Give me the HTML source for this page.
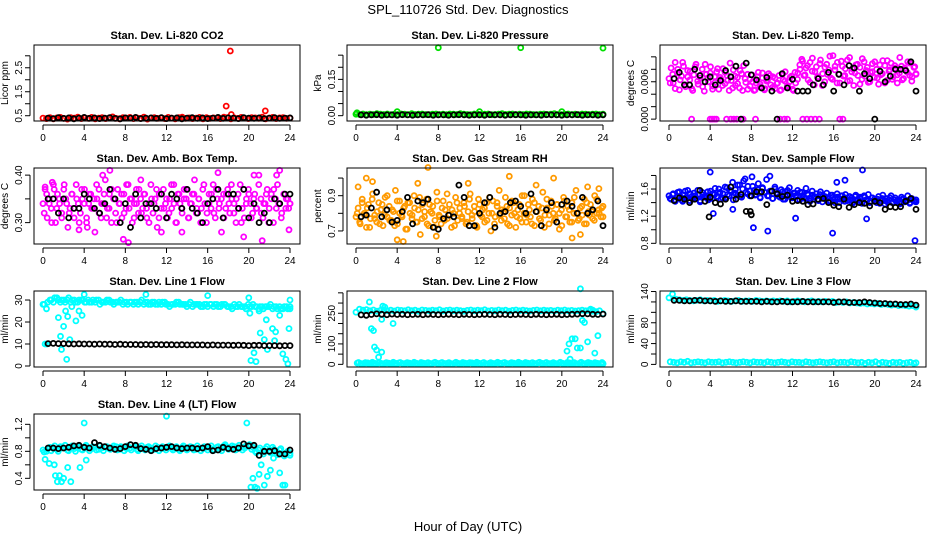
<!DOCTYPE html>
<html><head><meta charset="utf-8"><style>
html,body{margin:0;padding:0;background:#fff;}
svg{display:block;font-family:"Liberation Sans",sans-serif;}
</style></head><body>
<svg id="chart" width="936" height="540" viewBox="0 0 936 540">
<rect width="936" height="540" fill="#fff"/>
<text x="468" y="14" font-size="13" text-anchor="middle">SPL_110726  Std. Dev. Diagnostics</text>
<text x="468" y="531" font-size="13" text-anchor="middle">Hour of Day (UTC)</text>
</svg>
<script>
const xTicks=[0,4,8,12,16,20,24];
const co2Red=[0.40,0.38,0.42,0.37,0.41,0.43,0.39,0.36,0.42,0.40,0.44,0.38,0.41,0.39,0.43,0.37,0.40,0.42,0.38,0.41,0.45,0.39,0.37,0.42,0.40,0.43,0.38,0.41,0.39,0.44,0.36,0.40,0.42,0.39,0.41,0.38,0.43,0.40,0.37,0.42,0.44,0.39,0.41,0.38,0.40,0.43,0.37,0.42,0.39,0.41,0.40,0.38,0.44,0.42,0.37,0.41,0.39,0.43,0.40,0.38,0.42,0.41,0.39,0.44,0.37,0.40,0.43,0.38,0.41,0.42,0.39,0.40];
const co2Black=[0.40,0.38,0.42,0.39,0.41,0.37,0.40,0.43,0.39,0.41,0.38,0.40,0.42,0.39,0.37,0.41,0.40,0.43,0.38,0.40,0.41,0.39,0.42,0.38,0.40,0.41,0.37,0.40,0.42,0.39,0.41,0.38,0.40,0.43,0.39,0.41,0.40,0.38,0.42,0.40,0.39,0.41,0.38,0.40,0.42,0.39,0.40,0.41];
const co2OutT=[17.8,18.2,18.3,21.6];
const co2OutV=[0.9,3.2,0.55,0.7];
const presGreen=[0.006,0.005,0.007,0.004,0.006,0.005,0.008,0.006,0.005,0.007,0.004,0.006,0.005,0.007,0.006,0.004,0.008,0.005,0.006,0.007,0.005,0.004,0.006,0.007,0.005,0.006,0.004,0.007,0.006,0.005,0.008,0.006,0.005,0.004,0.007,0.006,0.005,0.006,0.007,0.004,0.005,0.006,0.008,0.005,0.006,0.007,0.004,0.006,0.005,0.007,0.006,0.005,0.004,0.006,0.007,0.005,0.006,0.008,0.005,0.004,0.006,0.007,0.005,0.006,0.004,0.007,0.006,0.005,0.006,0.007,0.005,0.006];
const presBlack=[0.003,0.002,0.003,0.004,0.002,0.003,0.003,0.002,0.004,0.003,0.002,0.003,0.003,0.004,0.002,0.003,0.003,0.002,0.003,0.004,0.003,0.002,0.003,0.003,0.002,0.004,0.003,0.003,0.002,0.003,0.004,0.003,0.002,0.003,0.003,0.002,0.004,0.003,0.003,0.002,0.003,0.003,0.004,0.002,0.003,0.003,0.002,0.003];
const presOutT=[0.1,4,8,12,16,20,24];
const presOutV=[0.012,0.017,0.281,0.017,0.281,0.017,0.279];
const tempMag=[0.0065,0.0082,0.0058,0.0091,0.0074,0.0047,0.0069,0.0085,0.0052,0.0078,0.0063,0.0049,0.0071,0.0088,0.0056,0.0066,0.0080,0.0045,0.0072,0.0060,0.0084,0.0053,0.0068,0.0076,0.0048,0.0064,0.0081,0.0057,0.0070,0.0046,0.0062,0.0079,0.0054,0.0067,0.0050,0.0073,0.0086,0.0059,0.0048,0.0064,0.0071,0.0046,0.0058,0.0075,0.0052,0.0066,0.0047,0.0061,0.0073,0.0055,0.0068,0.0049,0.0057,0.0070,0.0047,0.0063,0.0076,0.0052,0.0060,0.0069,0.0046,0.0058,0.0074,0.0087,0.0096,0.0070,0.0082,0.0063,0.0091,0.0077,0.0055,0.0084,0.0068,0.0095,0.0073,0.0060,0.0088,0.0079,0.0066,0.0102,0.0085,0.0058,0.0072,0.0093,0.0069,0.0081,0.0061,0.0099,0.0076,0.0054,0.0087,0.0070,0.0083,0.0064,0.0092,0.0078,0.0059,0.0075,0.0089,0.0067,0.0080,0.0056,0.0071,0.0094,0.0086,0.0062,0.0077,0.0090,0.0068,0.0082,0.0058,0.0074,0.0085,0.0065,0.0079,0.0092,0.0070,0.0061,0.0083,0.0073];
const tempMag2=[0.0058,0.0072,0.0049,0.0080,0.0063,0.0091,0.0055,0.0068,0.0077,0.0046,0.0084,0.0061,0.0070,0.0052,0.0088,0.0066,0.0074,0.0048,0.0059,0.0081,0.0067,0.0054,0.0075,0.0062,0.0090,0.0050,0.0069,0.0057,0.0078,0.0046,0.0065,0.0072,0.0053,0.0060,0.0047,0.0068,0.0056,0.0074,0.0049,0.0063,0.0070,0.0051,0.0066,0.0058,0.0046,0.0072,0.0061,0.0054,0.0067,0.0048,0.0075,0.0064,0.0080,0.0093,0.0071,0.0086,0.0059,0.0098,0.0076,0.0067,0.0089,0.0054,0.0083,0.0072,0.0101,0.0064,0.0079,0.0091,0.0058,0.0085,0.0070,0.0095,0.0062,0.0081,0.0074,0.0088,0.0056,0.0097,0.0069,0.0083,0.0060,0.0076,0.0092,0.0066,0.0087,0.0073,0.0058,0.0094,0.0079,0.0064,0.0086,0.0071,0.0099,0.0063,0.0082,0.0075,0.0090,0.0068,0.0084,0.0072];
const tempOutT=[2.2,4.0,4.2,4.4,4.6,5.6,6.0,6.3,6.6,7.2,8.4,10.8,11.2,11.5,13.0,13.4,13.8,14.2,14.6,16.6,16.9];
const tempOutV=[0,0,0,0,0,0,0,0,0,0,0,0,0,0,0,0,0,0,0,0,0];
const tempBlack=[0.0065,0.0075,0.0055,0.0055,0.0080,0.0070,0.0060,0.0068,0.0055,0.0062,0.0078,0.0068,0.0085,0.0000,0.0090,0.0071,0.0063,0.0050,0.0067,0.0045,0.0000,0.0073,0.0050,0.0064,0.0045,0.0045,0.0045,0.0055,0.0065,0.0055,0.0075,0.0045,0.0072,0.0055,0.0086,0.0082,0.0045,0.0073,0.0065,0.0000,0.0077,0.0060,0.0069,0.0080,0.0080,0.0078,0.0092,0.0045];
const ambMag=[0.34,0.37,0.31,0.35,0.33,0.38,0.30,0.36,0.34,0.32,0.37,0.35,0.29,0.33,0.36,0.31,0.38,0.34,0.32,0.35,0.37,0.30,0.34,0.36,0.33,0.28,0.35,0.37,0.31,0.34,0.39,0.33,0.36,0.30,0.35,0.32,0.37,0.34,0.31,0.36,0.33,0.38,0.35,0.30,0.34,0.37,0.32,0.35,0.33,0.36,0.31,0.34,0.38,0.32,0.35,0.29,0.36,0.33,0.37,0.34,0.31,0.35,0.33,0.38,0.30,0.36,0.34,0.32,0.37,0.35,0.31,0.34,0.36,0.39,0.33,0.35,0.30,0.37,0.34,0.32,0.36,0.33,0.38,0.31,0.35,0.34,0.28,0.36,0.33,0.37,0.32,0.35,0.34,0.30,0.36,0.38,0.33,0.31,0.35,0.37,0.34,0.32,0.36,0.33,0.40,0.35,0.31,0.34,0.37,0.33,0.36,0.30,0.35,0.38,0.34,0.32,0.36,0.33,0.35,0.34];
const ambMag2=[0.32,0.36,0.34,0.30,0.37,0.33,0.35,0.31,0.38,0.34,0.32,0.36,0.33,0.35,0.30,0.37,0.34,0.31,0.36,0.33,0.35,0.38,0.32,0.34,0.36,0.31,0.33,0.37,0.35,0.30,0.34,0.36,0.32,0.38,0.33,0.35,0.31,0.34,0.37,0.32,0.36,0.33,0.30,0.35,0.34,0.37,0.31,0.36,0.33,0.35,0.32,0.38,0.34,0.30,0.36,0.33,0.35,0.37,0.31,0.34,0.36,0.32,0.35,0.33,0.38,0.30,0.34,0.36,0.32,0.37,0.33,0.35,0.31,0.36,0.34,0.38,0.32,0.35,0.33,0.30,0.37,0.34,0.36,0.31,0.35,0.33,0.38,0.32,0.34,0.36,0.30,0.35,0.37,0.33,0.34,0.31,0.36,0.35,0.33,0.34];
const ambOutT=[0.2,0.9,3.5,4.3,5.8,6.5,7.8,8.3,9.5,11.5,13.5,17,19.5,20.5,21.3,22.7,23,23.9];
const ambOutV=[0.375,0.385,0.285,0.29,0.40,0.41,0.265,0.258,0.39,0.28,0.28,0.405,0.27,0.40,0.262,0.40,0.41,0.285];
const ambBlack=[0.35,0.35,0.32,0.35,0.31,0.33,0.33,0.36,0.35,0.33,0.32,0.34,0.37,0.35,0.30,0.34,0.29,0.36,0.31,0.34,0.34,0.33,0.36,0.31,0.36,0.35,0.33,0.37,0.33,0.32,0.30,0.34,0.35,0.37,0.31,0.36,0.36,0.33,0.37,0.31,0.34,0.30,0.32,0.30,0.35,0.34,0.36,0.36];
const rhOrange=[0.78,0.83,0.74,0.88,0.80,0.72,0.85,0.77,0.91,0.79,0.75,0.86,0.82,0.73,0.89,0.78,0.84,0.76,0.81,0.93,0.74,0.87,0.79,0.83,0.71,0.86,0.80,0.77,0.90,0.75,0.82,0.68,0.85,0.78,0.88,0.73,0.81,0.84,0.76,0.92,0.79,0.74,0.87,0.82,0.77,0.85,0.72,0.80,0.89,0.76,0.83,0.78,0.86,0.74,0.81,0.91,0.77,0.84,0.73,0.88,0.79,0.82,0.75,0.86,0.80,0.70,0.87,0.78,0.84,0.93,0.76,0.81,0.89,0.74,0.83,0.79,0.86,0.72,0.82,0.77,0.90,0.80,0.75,0.85,0.78,0.88,0.73,0.81,0.84,0.76,0.92,0.79,0.83,0.74,0.87,0.80,0.77,0.85,0.71,0.82,0.89,0.78,0.84,0.75,0.86,0.80,0.93,0.76,0.83,0.79,0.88,0.74,0.81,0.85,0.77,0.90,0.80,0.82,0.78,0.84];
const rhOrange2=[0.80,0.75,0.86,0.79,0.83,0.72,0.88,0.77,0.81,0.74,0.85,0.79,0.90,0.76,0.82,0.73,0.87,0.80,0.78,0.84,0.71,0.86,0.79,0.83,0.75,0.89,0.77,0.81,0.74,0.85,0.80,0.72,0.87,0.78,0.83,0.76,0.91,0.79,0.82,0.73,0.86,0.80,0.77,0.84,0.75,0.88,0.79,0.81,0.72,0.85,0.78,0.83,0.76,0.89,0.80,0.74,0.86,0.79,0.82,0.77,0.84,0.73,0.87,0.80,0.78,0.85,0.75,0.90,0.79,0.82,0.74,0.86,0.81,0.77,0.83,0.72,0.88,0.79,0.84,0.76,0.85,0.80,0.73,0.87,0.78,0.82,0.75,0.89,0.80,0.77,0.84,0.74,0.86,0.79,0.81,0.76,0.88,0.80,0.83,0.78];
const rhOutT=[0.2,1.0,1.6,4.0,4.6,6.0,7.0,7.8,10.9,14.9,17.5,19.2,21.0,21.8,22.5,23.6];
const rhOutV=[0.95,1.0,0.98,0.65,0.64,0.97,1.06,0.67,0.97,1.01,0.96,1.00,0.66,0.68,0.95,0.94];
const rhBlack=[0.78,0.79,0.83,0.92,0.78,0.82,0.75,0.76,0.81,0.89,0.74,0.87,0.86,0.88,0.72,0.71,0.77,0.79,0.78,0.96,0.89,0.73,0.73,0.80,0.86,0.89,0.72,0.80,0.81,0.86,0.87,0.84,0.80,0.91,0.81,0.73,0.82,0.86,0.75,0.85,0.87,0.84,0.80,0.89,0.80,0.82,0.87,0.73];
const sampBlue=[1.50,1.45,1.53,1.42,1.48,1.56,1.44,1.51,1.47,1.58,1.43,1.49,1.54,1.46,1.52,1.41,1.55,1.48,1.50,1.44,1.57,1.46,1.52,1.49,1.60,1.45,1.53,1.47,1.62,1.50,1.56,1.44,1.59,1.51,1.66,1.48,1.72,1.55,1.64,1.50,1.78,1.58,1.52,1.68,1.47,1.61,1.55,1.74,1.50,1.57,1.46,1.63,1.53,1.49,1.59,1.45,1.56,1.52,1.62,1.47,1.54,1.50,1.58,1.44,1.55,1.48,1.61,1.51,1.46,1.57,1.49,1.53,1.43,1.56,1.50,1.47,1.54,1.42,1.51,1.48,1.45,1.53,1.40,1.50,1.46,1.52,1.43,1.49,1.47,1.41,1.51,1.45,1.48,1.39,1.50,1.44,1.52,1.42,1.47,1.45,1.40,1.49,1.43,1.51,1.38,1.46,1.44,1.50,1.41,1.47,1.43,1.39,1.48,1.45,1.42,1.50,1.40,1.46,1.43,1.44];
const sampBlue2=[1.46,1.52,1.44,1.55,1.49,1.42,1.57,1.47,1.53,1.45,1.50,1.58,1.43,1.51,1.48,1.56,1.46,1.53,1.61,1.49,1.55,1.47,1.63,1.52,1.58,1.70,1.54,1.66,1.49,1.60,1.75,1.53,1.57,1.64,1.51,1.59,1.48,1.62,1.55,1.50,1.57,1.46,1.60,1.52,1.48,1.56,1.45,1.58,1.51,1.47,1.54,1.44,1.55,1.50,1.46,1.53,1.42,1.51,1.48,1.44,1.52,1.41,1.49,1.46,1.43,1.51,1.40,1.48,1.45,1.50,1.42,1.47,1.44,1.39,1.49,1.43,1.46,1.41,1.48,1.44,1.40,1.47,1.42,1.45,1.39,1.46,1.43,1.41,1.47,1.40,1.44,1.42,1.38,1.45,1.41,1.43,1.39,1.44,1.42,1.41];
const sampOutT=[4.0,4.3,6.2,8.2,9.6,9.8,12.3,15.9,16.3,17.1,18.8,19.2,23.9];
const sampOutV=[1.85,1.24,1.30,1.03,0.98,1.79,1.17,0.95,1.70,1.73,1.88,1.16,0.84];
const sampBlack=[1.43,1.47,1.45,1.40,1.45,1.58,1.42,1.48,1.40,1.38,1.45,1.63,1.45,1.52,1.27,1.50,1.56,1.56,1.37,1.57,1.53,1.49,1.51,1.42,1.43,1.42,1.37,1.38,1.45,1.46,1.40,1.36,1.34,1.45,1.33,1.37,1.40,1.39,1.35,1.42,1.40,1.30,1.34,1.33,1.34,1.42,1.46,1.30];
const sampBlkOutT=[3.9,7.9,8.0];
const sampBlkOutV=[1.19,1.27,1.22];
const line1Cyan=[28,26,30,29,31,29,30,30,29,30,29,30,29,30,29,29,30,29,29,30,29,29,29,28,29,29,28,29,29,28,29,28,29,28,28,29,28,28,28,29,28,28,28,27,28,28,27,28,28,27,28,27,28,27,27,28,27,27,27,28,27,27,26,27,27,27,26,27,27,26,27,26];
const line1Cyan2=[28,29,30,31,30,30,29,31,30,29,30,30,29,29,30,30,28,29,30,29,28,29,30,29,28,29,29,28,30,29,28,29,28,29,29,28,27,28,29,28,28,27,29,28,28,27,28,27,28,28,27,28,28,27,26,27,28,27,26,27,28,27,27,26,27,28,27,26,26,27,26,27];
const line1OutT=[0.2,0.4,1.5,1.7,1.8,2.0,2.2,2.3,2.4,2.6,2.8,3.2,3.5,3.8,4.0,10,16,20,20.1,20.2,20.5,20.7,21,21.1,21.5,21.7,21.8,22.3,22.5,22.6,23.0,23.3,23.6,23.8,23.9,24];
const line1OutV=[10,10,22,13.5,7.5,18,25,3,22.5,12,27,20.5,25,23,32.5,32.5,32,31,24,2.5,6,2,25,15,12,21,7.5,17,11.5,15.5,23,5.5,3,1,17,30];
const line1Black=[10.2,10.3,10.2,10.2,10.1,10.0,10.1,10.0,10.0,9.9,10.0,9.9,9.9,9.8,9.9,9.8,9.8,9.8,9.7,9.8,9.7,9.8,9.7,9.7,9.7,9.6,9.7,9.6,9.6,9.6,9.6,9.5,9.6,9.5,9.5,9.5,9.4,9.5,9.4,9.3,9.4,9.4,9.3,9.3,9.3,9.2,9.3,9.3];
const line2Cyan=[255,270,265,268,262,266,260,264,267,263,265,261,266,264,262,267,263,265,260,266,264,262,265,263,267,261,264,266,262,265,263,260,264,266,262,265,263,267,261,264,262,266,263,265,260,264,266,262,265,263,261,264,266,262,265,263,264,261,265,263,266,262,264,261,263,265,262,264,260,258,262,248];
const line2Low=[6,4,5,7,3,5,6,4,5,6,3,5,7,4,5,6,4,5,3,6,5,4,7,5,6,4,5,3,6,5,4,6,5,7,4,5,6,3,5,4,6,5,7,4,5,6,3,5,4,6,5,4,7,5,6,3,5,4,6,5,4,7,5,3,6,4,5,6,4,5,3,4];
const line2Low2=[9,2,8,1,10,2,9,1,8,3,10,1,9,2,8,1,10,2,9,1,8,2,10,1,9,3,8,1,10,2,9,1,8,2,10,1,9,2,8,3,10,1,9,2,8,1,10,2,9,1,8,2,10,1,9,3,8,1,10,2,9,1,8,2,10,1,9,2,8,1,9,2];
const line2OutT=[1.3,1.5,1.7,1.8,2.0,2.2,2.5,2.5,2.6,2.8,3.6,20.5,20.7,20.8,21,21.3,21.5,21.8,21.8,22.0,22.2,22.5,22.8,23,23.2,23.5];
const line2OutV=[305,175,165,85,70,35,60,220,285,280,200,65,100,25,125,125,80,80,370,215,205,110,270,265,55,140];
const line2Black=[242,240,244,247,245,243,246,244,245,243,244,245,243,245,244,243,244,245,244,243,245,244,243,244,245,244,243,245,244,243,244,245,244,243,245,244,243,244,245,243,244,245,246,248,247,245,244,246];
const line3Cyan=[128,135,125,124,123,124,123,122,123,124,122,123,122,123,121,122,123,122,121,122,123,121,122,122,121,123,122,121,122,121,122,121,122,121,122,120,121,122,121,120,121,122,120,121,120,121,120,121,119,120,119,120,118,119,118,117,118,116,117,116,117,115,116,115,114,115,113,114,113,112,113,110];
const line3Low=[5,4,3,5,4,6,3,4,5,4,3,5,4,4,5,3,4,5,4,3,4,5,4,3,5,4,4,3,5,4,3,4,5,4,3,5,4,4,3,5,4,3,4,5,4,3,4,5,3,4,4,3,5,4,3,4,2,4,3,5,2,4,3,2,4,3,4,2,3,4,2,3];
const line3Black=[123,123,122,122,123,123,122,122,121,122,121,121,122,121,121,121,121,120,121,120,120,121,120,120,120,121,120,120,120,120,120,119,120,120,119,119,119,120,119,118,117,117,116,116,115,115,116,114];
const line4Cyan=[0.82,0.80,0.86,0.84,0.83,0.87,0.85,0.82,0.86,0.84,0.85,0.83,0.87,0.85,0.84,0.86,0.83,0.85,0.86,0.84,0.85,0.87,0.83,0.86,0.84,0.85,0.86,0.83,0.85,0.84,0.86,0.85,0.83,0.86,0.84,0.85,0.87,0.84,0.85,0.83,0.86,0.84,0.85,0.86,0.83,0.85,0.84,0.86,0.85,0.83,0.86,0.84,0.88,0.86,0.85,0.87,0.84,0.86,0.85,0.88,0.83,0.80,0.82,0.79,0.84,0.81,0.86,0.78,0.82,0.76,0.78,0.74];
const line4Cyan2=[0.79,0.84,0.81,0.88,0.80,0.85,0.89,0.81,0.88,0.80,0.87,0.82,0.89,0.81,0.87,0.82,0.88,0.81,0.87,0.83,0.88,0.82,0.87,0.81,0.88,0.82,0.87,0.81,0.88,0.82,0.87,0.82,0.88,0.81,0.87,0.82,0.88,0.82,0.87,0.81,0.88,0.82,0.87,0.82,0.88,0.81,0.87,0.82,0.88,0.82,0.87,0.81,0.90,0.83,0.88,0.82,0.89,0.82,0.88,0.90,0.86,0.78,0.85,0.76,0.87,0.78,0.83,0.75,0.84,0.73,0.80,0.77];
const line4OutT=[0.2,0.6,1.1,1.2,1.4,1.6,1.8,2.0,2.4,2.7,3.6,4.0,4.2,12,19.8,20.2,20.4,20.6,20.8,21.0,21.2,21.5,21.8,22.1,22.4,23.0,23.3,23.5];
const line4OutV=[0.68,0.62,0.6,0.44,0.35,0.44,0.35,0.4,0.56,0.35,0.56,1.22,0.67,1.32,1.22,0.27,0.4,0.27,0.25,0.46,0.6,0.3,0.43,0.52,0.7,0.48,0.3,0.3];
const line4Black=[0.85,0.85,0.84,0.85,0.86,0.88,0.89,0.86,0.85,0.93,0.89,0.87,0.85,0.83,0.84,0.87,0.90,0.89,0.84,0.83,0.81,0.84,0.85,0.86,0.87,0.85,0.84,0.85,0.85,0.84,0.85,0.87,0.81,0.82,0.86,0.84,0.83,0.85,0.91,0.88,0.89,0.74,0.80,0.80,0.81,0.76,0.76,0.82];

const NS='http://www.w3.org/2000/svg';
const svg=document.getElementById('chart');
function mk(tag,attrs,parent){const e=document.createElementNS(NS,tag);for(const k in attrs)e.setAttribute(k,attrs[k]);(parent||svg).appendChild(e);return e;}
const ROWS=[45,168,291,414];
const panels=[
 {name:'co2',title:'Stan. Dev. Li-820 CO2',yt:'Licor ppm',r:0,c:0,ymin:0.28,ymax:3.45,ticks:[0.5,1,1.5,2,2.5,3],labels:['0.5','1.5','2.5'],col:'#ff0000',main:[co2Red],outT:co2OutT,outV:co2OutV,blk:co2Black},
 {name:'pressure',title:'Stan. Dev. Li-820 Pressure',yt:'kPa',r:0,c:1,ymin:-0.022,ymax:0.292,ticks:[0,0.05,0.1,0.15,0.2,0.25],labels:['0.00','0.15'],col:'#00e000',main:[presGreen],outT:presOutT,outV:presOutV,blk:presBlack},
 {name:'li820-temp',title:'Stan. Dev. Li-820 Temp.',yt:'degrees C',r:0,c:2,ymin:-0.0003,ymax:0.0119,ticks:[0,0.002,0.004,0.006,0.008,0.010],labels:['0.000','0.006'],col:'#ff00ff',main:[tempMag,tempMag2],outT:tempOutT,outV:tempOutV,blk:tempBlack},
 {name:'amb-box-temp',title:'Stan. Dev. Amb. Box Temp.',yt:'degrees C',r:1,c:0,ymin:0.255,ymax:0.415,ticks:[0.30,0.35,0.40],labels:['0.30','0.40'],col:'#ff00ff',main:[ambMag,ambMag2],outT:ambOutT,outV:ambOutV,blk:ambBlack},
 {name:'gas-stream-rh',title:'Stan. Dev. Gas Stream RH',yt:'percent',r:1,c:1,ymin:0.626,ymax:1.057,ticks:[0.7,0.8,0.9,1.0],labels:['0.7','0.9'],col:'#ff9a00',main:[rhOrange,rhOrange2],outT:rhOutT,outV:rhOutV,blk:rhBlack},
 {name:'sample-flow',title:'Stan. Dev. Sample Flow',yt:'ml/min',r:1,c:2,ymin:0.79,ymax:1.91,ticks:[0.8,1.0,1.2,1.4,1.6,1.8],labels:['0.8','1.2','1.6'],col:'#0000ff',main:[sampBlue,sampBlue2],outT:sampOutT,outV:sampOutV,blk:sampBlack,bT:sampBlkOutT,bV:sampBlkOutV},
 {name:'line1-flow',title:'Stan. Dev. Line 1 Flow',yt:'ml/min',r:2,c:0,ymin:-0.45,ymax:34.1,ticks:[0,10,20,30],labels:['0','10','20','30'],col:'#00ffff',main:[line1Cyan,line1Cyan2],outT:line1OutT,outV:line1OutV,blk:line1Black},
 {name:'line2-flow',title:'Stan. Dev. Line 2 Flow',yt:'ml/min',r:2,c:1,ymin:-13,ymax:359,ticks:[0,50,100,150,200,250,300,350],labels:['0','100','250'],lv:[0,100,250],col:'#00ffff',main:[line2Cyan,line2Low,line2Low2],outT:line2OutT,outV:line2OutV,blk:line2Black},
 {name:'line3-flow',title:'Stan. Dev. Line 3 Flow',yt:'ml/min',r:2,c:2,ymin:-5,ymax:141,ticks:[0,20,40,60,80,100,120,140],labels:['0','40','80','140'],lv:[0,40,80,140],col:'#00ffff',main:[line3Cyan,line3Low],outT:[],outV:[],blk:line3Black},
 {name:'line4-flow',title:'Stan. Dev. Line 4 (LT) Flow',yt:'ml/min',r:3,c:0,ymin:0.227,ymax:1.353,ticks:[0.4,0.6,0.8,1.0,1.2],labels:['0.4','0.8','1.2'],col:'#00ffff',main:[line4Cyan,line4Cyan2],outT:line4OutT,outV:line4OutV,blk:line4Black}
];
panels.forEach(p=>{
 const L=34+313*p.c,R=300+313*p.c,T=ROWS[p.r],B=T+76;
 const xs=t=>43+313*p.c+t*(247/24);
 const ys=v=>B-(v-p.ymin)/(p.ymax-p.ymin)*(B-T);
 const g=mk('g',{});
 
 
 const tt=mk('text',{x:(L+R)/2,y:T-6,'font-size':11,'font-weight':'bold','text-anchor':'middle'},g);tt.textContent=p.title;
 
 
 const pts=mk('g',{fill:'none','stroke-width':1.8},g);
 
 
 const dot=(t,v,col)=>{const y=ys(v);if(y<T-3||y>B+3)return;const c=mk('circle',{cx:xs(t).toFixed(1),cy:y.toFixed(1),r:2.5,stroke:col},pts);
  
  };
 p.main.forEach((arr,k)=>{const off=k*0.12;arr.forEach((v,i)=>dot(Math.min(24,i*24/(arr.length-1)+off),v,p.col));});
 p.outT.forEach((t,i)=>dot(t,p.outV[i],p.col));
 p.blk.forEach((v,i)=>dot(0.5+i*23.5/(p.blk.length-1),v,'#000'));
 if(p.bT)p.bT.forEach((t,i)=>dot(t,p.bV[i],'#000'));
 const box=mk('rect',{x:L,y:T,width:R-L,height:B-T,fill:'none',stroke:'#000','stroke-width':1},g);
 
 
 const xa=mk('g',{stroke:'#000','font-size':10},g);
 
 
 mk('line',{x1:xs(0),x2:xs(24),y1:B+4,y2:B+4},xa);
 xTicks.forEach(t=>{mk('line',{x1:xs(t),x2:xs(t),y1:B+4,y2:B+9},xa);
  const tx=mk('text',{x:xs(t),y:B+20,'text-anchor':'middle',stroke:'none',fill:'#000'},xa);tx.textContent=t;});
 const ya=mk('g',{stroke:'#000','font-size':10},g);
 
 
 const t0=p.ticks[0],t1=p.ticks[p.ticks.length-1];
 mk('line',{x1:L-4,x2:L-4,y1:ys(t0),y2:ys(t1)},ya);
 p.ticks.forEach(v=>mk('line',{x1:L-9,x2:L-4,y1:ys(v),y2:ys(v)},ya));
 p.labels.forEach((lab,i)=>{const v=p.lv?p.lv[i]:parseFloat(lab);const x=L-12,y=ys(v);
  const tx=mk('text',{x:x,y:y,'text-anchor':'middle',transform:`rotate(-90 ${x} ${y})`,stroke:'none',fill:'#000'},ya);tx.textContent=lab;});
 const yx=L-26,yy=(T+B)/2;
 const yt=mk('text',{x:yx,y:yy,'font-size':10,'text-anchor':'middle',transform:`rotate(-90 ${yx} ${yy})`},g);yt.textContent=p.yt;
 
 
});
</script>
</body></html>
